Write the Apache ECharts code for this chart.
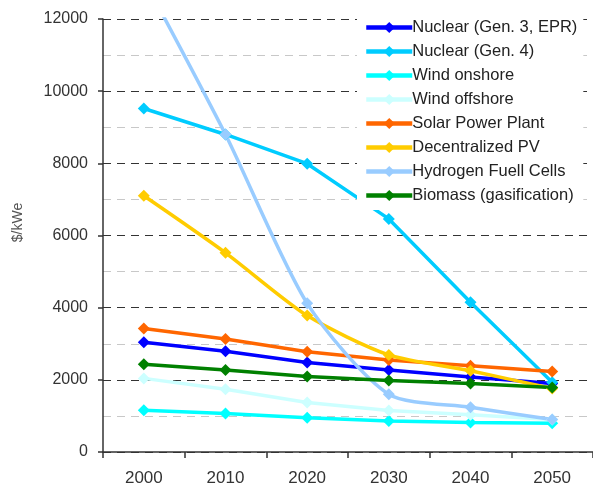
<!DOCTYPE html>
<html>
<head>
<meta charset="utf-8">
<script src="https://cdn.jsdelivr.net/npm/echarts@6/dist/echarts.min.js"></script>
<style>
  html, body { margin: 0; padding: 0; background: #ffffff; }
  #chart { width: 593px; height: 488px; }
</style>
</head>
<body>
<div id="chart"></div>
<script>
// years on the x axis
const years = ['2000', '2010', '2020', '2030', '2040', '2050']

// $/kWe
const nuclearGen3 = [3040, 2790, 2480, 2270, 2080, 1900]
const nuclearGen4 = [9520, 8800, 7990, 6460, 4150, 1930]
const windOnshore = [1160, 1070, 950, 860, 820, 800]
const windOffshore = [2040, 1740, 1370, 1150, 1030, 900]
const solarPlant = [3420, 3130, 2780, 2550, 2390, 2230]
const decentralPV = [7100, 5520, 3780, 2690, 2250, 1760]
const hydrogenCells = [13100, 8800, 4120, 1600, 1240, 900]
const biomass = [2430, 2270, 2090, 1980, 1900, 1790]

const chart = echarts.init(document.getElementById('chart'))

// one helper for all the lines, they all look the same apart from colour
function makeLine(name, data, color, smooth) {
  return {
    name: name,
    type: 'line',
    data: data,
    smooth: smooth || false,
    symbol: 'diamond',
    symbolSize: 12,
    showAllSymbol: true,
    clip: true,
    lineStyle: { width: 3.5, color: color },
    itemStyle: { color: color },
    emphasis: { disabled: true }
  }
}

const series = [
  makeLine('Nuclear (Gen. 3, EPR)', nuclearGen3, '#0000ff'),
  makeLine('Nuclear (Gen. 4)', nuclearGen4, '#00ccff'),
  makeLine('Wind onshore', windOnshore, '#00ffff'),
  makeLine('Wind offshore', windOffshore, '#ccffff'),
  makeLine('Solar Power Plant', solarPlant, '#ff6600'),
  makeLine('Decentralized PV', decentralPV, '#ffcc00', 0.25),
  makeLine('Hydrogen Fuell Cells', hydrogenCells, '#99ccff', 0.25),
  makeLine('Biomass (gasification)', biomass, '#008000')
]

const option = {
  backgroundColor: '#ffffff',
  animation: false,
  textStyle: { fontFamily: 'Liberation Sans, Arial, sans-serif' },
  legend: {
    orient: 'vertical',
    left: 357,
    top: 13,
    padding: [6, 6, 6, 7],
    backgroundColor: '#ffffff',
    itemWidth: 46,
    itemHeight: 14,
    itemGap: 7,
    lineStyle: { width: 4.5 },
    textStyle: { fontSize: 16.5, color: '#222', padding: [0, 0, 0, -5] },
    data: series.map(s => s.name)
  },
  grid: {
    left: 103,
    top: 19,
    width: 498,
    bottom: 36
  },
  xAxis: {
    type: 'category',
    data: years,
    boundaryGap: true,
    axisLine: { lineStyle: { color: '#333', width: 1.5 } },
    axisTick: { show: true, length: 6, lineStyle: { color: '#333', width: 1.5 } },
    axisLabel: { fontSize: 17, color: '#333', margin: 18 },
    splitLine: { show: false }
  },
  yAxis: {
    type: 'value',
    min: 0,
    max: 12000,
    interval: 2000,
    name: '$/kWe',
    nameLocation: 'middle',
    nameGap: 78,
    nameTextStyle: { fontSize: 14, color: '#555', padding: [0, 0, 0, 26] },
    axisLine: { show: true, lineStyle: { color: '#333', width: 1.5 } },
    axisTick: { show: true, inside: false, length: 5, lineStyle: { color: '#333', width: 1.5 } },
    axisLabel: { fontSize: 16, color: '#333', margin: 15, formatter: v => String(v) },
    splitLine: {
      lineStyle: { color: '#333', type: [8, 6], width: 1.2 }
    },
    minorTick: { show: false, splitNumber: 2 },
    minorSplitLine: {
      show: true,
      lineStyle: { color: '#c8c8c8', type: [8, 6], width: 1.2 }
    }
  },
  series: series
}

chart.setOption(option)
</script>
</body>
</html>
